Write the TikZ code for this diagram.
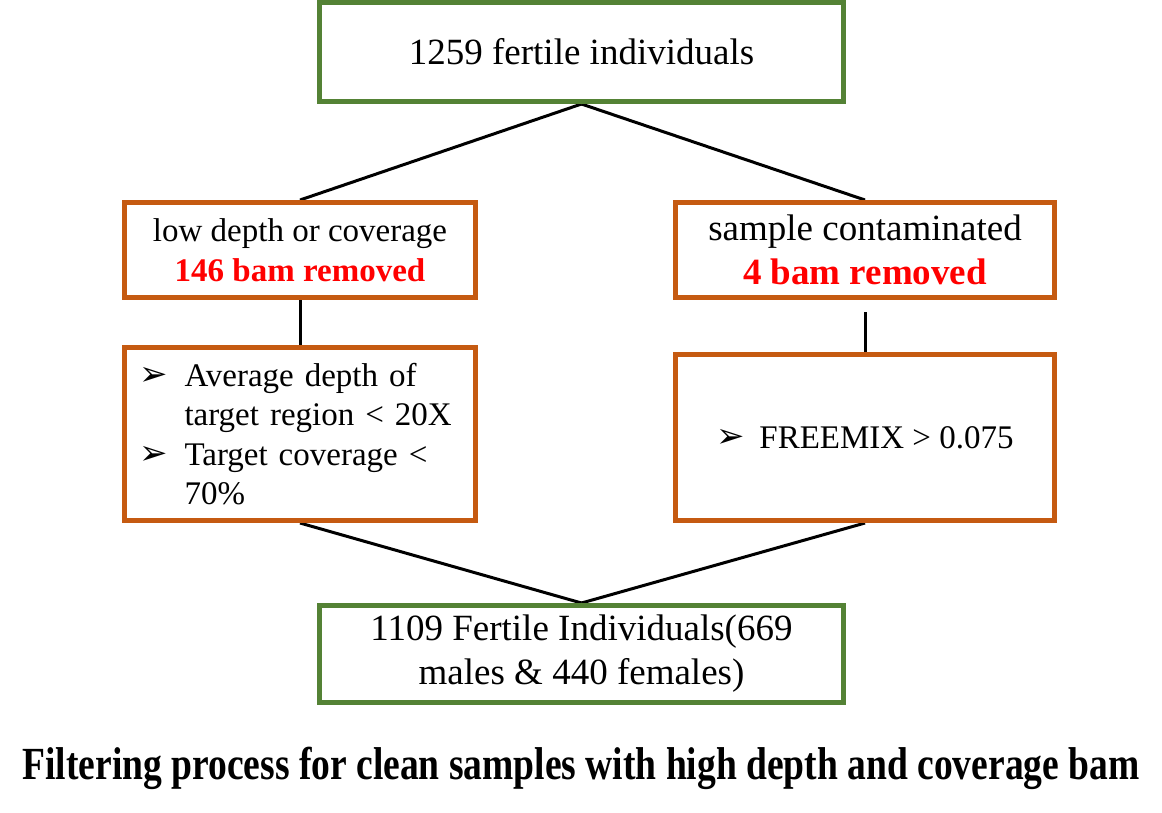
\documentclass[tikz,border=0pt]{standalone}
\usepackage{fontspec}
\usepackage{graphicx}
\setmainfont{Liberation Serif}
\newfontfamily\arrowfnt{DejaVu Sans}
\definecolor{boxgreen}{RGB}{84,130,53}
\definecolor{boxorange}{RGB}{197,90,17}
\definecolor{remred}{RGB}{255,0,0}
\usetikzlibrary{backgrounds}
\newcommand{\bul}[1]{\makebox[#1][l]{\raisebox{1pt}{\fontsize{34}{34}\arrowfnt ➢}}}
\newcommand{\bigsize}{\fontsize{37}{44}\selectfont}
\newcommand{\smallsize}{\fontsize{33}{39.5}\selectfont}
\tikzset{
  gbox/.style={draw=boxgreen, line width=5pt, fill=white, align=center, inner sep=0pt},
  obox/.style={draw=boxorange, line width=5pt, fill=white, inner sep=0pt},
  link/.style={draw=black, line width=3pt}
}
\begin{document}
\begin{tikzpicture}[x=1pt,y=-1pt]
\useasboundingbox (0,0) rectangle (1162,812);
\node[gbox, font=\bigsize, minimum width=524, minimum height=99] (top) at (581.5,52) {1259 fertile individuals};
\node[obox, font=\smallsize, align=center, minimum width=351, minimum height=95] (l1) at (300,250)
  {low depth or coverage\\ \textcolor{remred}{\bfseries 146 bam removed}};
\node[obox, font=\bigsize, align=center, minimum width=379, minimum height=95] (r1) at (865,250)
  {sample contaminated\\ \textcolor{remred}{\bfseries 4 bam removed}};
\node[obox, font=\smallsize, align=left, text width=321, inner xsep=15pt, minimum width=351, minimum height=173] (l2) at (300,434)
  {\bul{45pt}Average depth of\\ \hspace*{45pt}target region < 20X\\ \bul{45pt}Target coverage <\\ \hspace*{45pt}70\%};
\node[obox, font=\smallsize, align=center, minimum width=379, minimum height=166] (r2) at (865,437.5)
  {\bul{43pt}FREEMIX > 0.075};
\node[gbox, font=\bigsize, minimum width=524, minimum height=97] (bot) at (581.5,654)
  {1109 Fertile Individuals(669\\ males \& 440 females)};
\coordinate (rgap) at (865,312);
\node[font=\fontsize{46}{50}\selectfont\bfseries, inner sep=0pt] (cap) at (581,768)
  {\scalebox{0.816}[1]{Filtering process for clean samples with high depth and coverage bam}};
\begin{scope}[on background layer]
\draw[link] (top.south) -- (l1.north);
\draw[link] (top.south) -- (r1.north);
\draw[link] (l1.south) -- (l2.north);
\draw[link] (rgap) -- (r2.north);
\draw[link] (l2.south) -- (bot.north);
\draw[link] (r2.south) -- (bot.north);
\end{scope}
\end{tikzpicture}
\end{document}
